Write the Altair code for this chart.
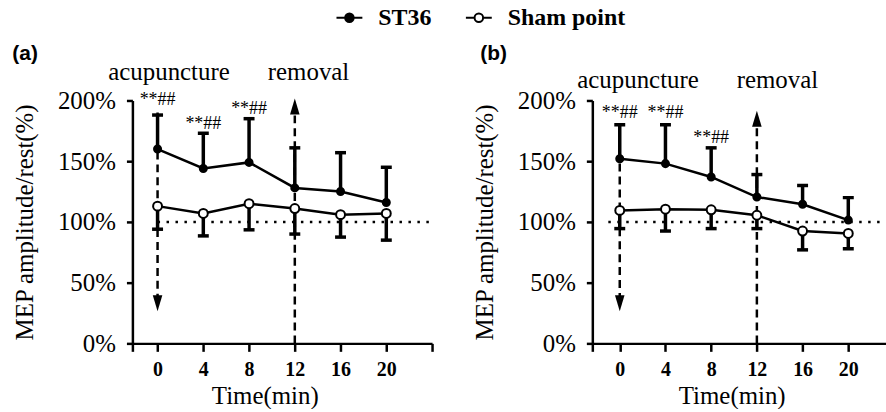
import altair as alt
import pandas as pd

# ---------------- data ----------------
times = [0, 4, 8, 12, 16, 20]
series = ["ST36", "Sham point"]

a_st36 = [160, 144, 149, 128, 125, 116]
a_st36_sd = [28, 29, 36, 33, 32, 29]
a_sham = [113, 107, 115, 111, 106, 107]
a_sham_sd = [19, 18.5, 21.5, 21, 18.5, 22]

b_st36 = [152, 148, 137, 120.5, 114.5, 101.5]
b_st36_sd = [28, 32, 24, 18.5, 15.5, 18.5]
b_sham = [109.5, 110.5, 110, 105.5, 92.5, 90.5]
b_sham_sd = [15, 18, 15.5, 11, 15.5, 12.5]

sig_times = [0, 4, 8]
sig_label = "**##"
a_sig_y = [200, 181, 193]
b_sig_y = [190, 190, 169]

event_names = ["acupuncture", "removal"]
event_times = [0, 12]
a_event_label_x = [1.0, 13.2]
a_event_label_y = [223, 223]
b_event_label_x = [1.6, 13.8]
b_event_label_y = [217, 217]

x_tick_labels = [0, 4, 8, 12, 16, 20]
y_ticks = [0, 50, 100, 150, 200]

SERIF = "Liberation Serif"
SANS = "Liberation Sans"

LEGEND = alt.Legend(
    orient="none", legendX=204, legendY=-97,
    direction="horizontal", title=None,
    symbolType="M-1,0H-0.33M0.33,0H1M0.33,0A0.33,0.33,0,1,1,-0.33,0A0.33,0.33,0,1,1,0.33,0Z",
    symbolSize=676, symbolStrokeWidth=2, symbolStrokeColor="black",
    labelFont=SERIF, labelFontSize=24, labelFontWeight="bold",
    labelColor="black", labelOffset=15, columnPadding=30,
    padding=0, symbolOpacity=1)
FILL_SCALE = alt.Scale(domain=series, range=["black", "white"])


def make_panel(tag, st, st_sd, sh, sh_sd, sig_y, ev_lx, ev_ly, xdom, width,
               tag_x, tag_y, acu_span, rem_top, ref_span, title_x):
    rows = []
    for t, v, s in zip(times, st, st_sd):
        rows.append(dict(time=t, value=v, lo=v, hi=v + s, cap=v + s, series="ST36"))
    for t, v, s in zip(times, sh, sh_sd):
        rows.append(dict(time=t, value=v, lo=v - s, hi=v, cap=v - s, series="Sham point"))
    df = pd.DataFrame(rows)

    xs = alt.Scale(domain=xdom, nice=False, zero=False)
    ys = alt.Scale(domain=[0, 200], nice=False, zero=True)
    xvals = [xdom[0]] + [v for v in x_tick_labels + [24] if v <= xdom[1]]
    xaxis = alt.Axis(values=xvals, title="Time(min)",
                     labelExpr="datum.value >= 0 && datum.value <= 20 ? datum.value : ''",
                     labelFont=SERIF, labelFontSize=20, labelFontWeight="bold",
                     tickSize=8, labelPadding=8, titleFont=SERIF, titleFontSize=25,
                     titleFontWeight="normal", titlePadding=4, titleX=title_x,
                     labelFlush=False)
    yaxis = alt.Axis(values=y_ticks, title="MEP amplitude/rest(%)",
                     labelExpr="datum.value + '%'", labelFont=SERIF, labelFontSize=25,
                     tickSize=6, labelPadding=11, titleFont=SERIF, titleFontSize=25,
                     titleFontWeight="normal", titlePadding=20)

    def X(f):
        return alt.X(f, type="quantitative", scale=xs, axis=xaxis)

    def Y(f):
        return alt.Y(f, type="quantitative", scale=ys, axis=yaxis)

    ref = pd.DataFrame(dict(x0=[ref_span[0]], x1=[ref_span[1]], y=[100]))
    ref_layer = alt.Chart(ref).mark_rule(color="black", strokeWidth=2.5,
                                         strokeDash=[2.5, 6.5], clip=True).encode(
        x=X("x0"), x2="x1", y=Y("y"))

    ev = pd.DataFrame(dict(time=event_times,
                           y0=[acu_span[0], 0], y1=[acu_span[1], rem_top],
                           lx=ev_lx, ly=ev_ly, name=event_names))
    ev_lines = alt.Chart(ev).mark_rule(color="black", strokeWidth=2.5,
                                       strokeDash=[8, 5]).encode(
        x=X("time"), y=Y("y0"), y2="y1")
    arrow_down = alt.Chart(ev.iloc[[0]]).mark_point(
        shape="M-0.6,-1L0.6,-1L0,1Z", filled=True, color="black", size=256,
        opacity=1).encode(x=X("time"), y=Y("y1"))
    arrow_up = alt.Chart(ev.iloc[[1]]).mark_point(
        shape="M-0.6,1L0.6,1L0,-1Z", filled=True, color="black", size=256,
        opacity=1).encode(x=X("time"), y=Y("y1"))
    ev_text = alt.Chart(ev).mark_text(font=SERIF, fontSize=25, color="black",
                                      baseline="middle").encode(
        x=X("lx"), y=Y("ly"), text="name:N")

    lines = alt.Chart(df).mark_line(color="black", strokeWidth=2.5).encode(
        x=X("time"), y=Y("value"), detail="series:N")
    err = alt.Chart(df).mark_rule(color="black", strokeWidth=3.5).encode(
        x=X("time"), y=Y("lo"), y2="hi")
    caps = alt.Chart(df).mark_tick(color="black", thickness=3.5, size=11,
                                   orient="horizontal", opacity=1).encode(
        x=X("time"), y=Y("cap"))

    def pts(name, size):
        return alt.Chart(df[df.series == name]).mark_point(
            filled=True, stroke="black", strokeWidth=2, opacity=1, shape="circle",
            size=size).encode(
            x=X("time"), y=Y("value"),
            fill=alt.Fill("series:N", scale=FILL_SCALE, legend=LEGEND))

    sig = pd.DataFrame(dict(time=sig_times, y=sig_y, label=[sig_label] * 3))
    sig_text = alt.Chart(sig).mark_text(font=SERIF, fontSize=18, color="black",
                                        baseline="middle").encode(
        x=X("time"), y=Y("y"), text="label:N")

    tag_df = pd.DataFrame(dict(x=[tag_x], y=[tag_y], label=[tag]))
    tag_text = alt.Chart(tag_df).mark_text(font=SANS, fontSize=21, fontWeight="bold",
                                           color="black", baseline="middle",
                                           align="left").encode(
        x=X("x"), y=Y("y"), text="label:N")

    return alt.layer(ref_layer, ev_lines, arrow_down, arrow_up, lines, err, caps,
                     pts("ST36", 50), pts("Sham point", 80),
                     sig_text, ev_text, tag_text).properties(width=width, height=244)


panel_a = make_panel("(a)", a_st36, a_st36_sd, a_sham, a_sham_sd, a_sig_y,
                     a_event_label_x, a_event_label_y, [-2.2, 24], 301,
                     -12.7, 238, (190, 33), 195, (0, 24), 133)
panel_b = make_panel("(b)", b_st36, b_st36_sd, b_sham, b_sham_sd, b_sig_y,
                     b_event_label_x, b_event_label_y, [-2.4, 23.3], 295,
                     -12.2, 238, (180, 33), 185, (-1, 24), 140)

chart = alt.hconcat(panel_a, panel_b, spacing=38).properties(
    padding={"left": 12, "top": 3, "right": 0, "bottom": 0}
).resolve_scale(fill="shared").resolve_legend(fill="shared").configure_view(
    stroke=None
).configure_axis(
    domainColor="black", domainWidth=2.5, tickColor="black", tickWidth=2.5,
    grid=False, labelColor="black", titleColor="black"
)

chart.save("out.html", embed_options={"renderer": "svg", "actions": False})
